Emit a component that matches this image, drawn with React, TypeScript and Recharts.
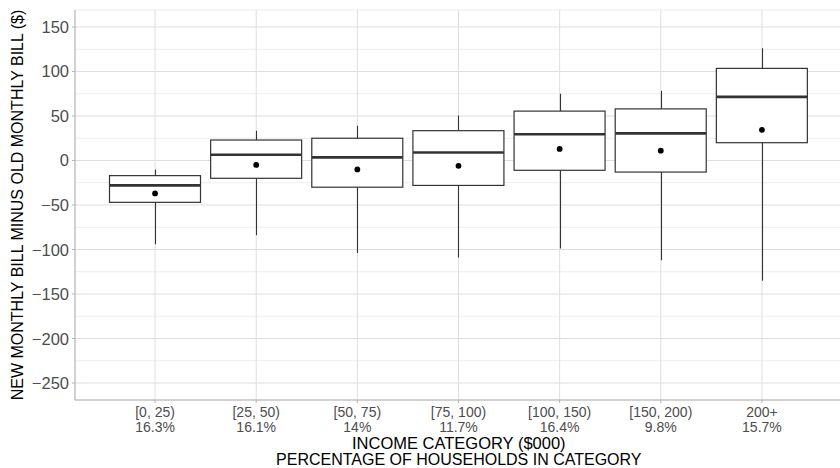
import React from "react";
import {
  ComposedChart,
  Bar,
  Scatter,
  XAxis,
  YAxis,
  CartesianGrid,
} from "recharts";

const categories = ["[0, 25)", "[25, 50)", "[50, 75)", "[75, 100)", "[100, 150)", "[150, 200)", "200+"];
const shares = ["16.3%", "16.1%", "14%", "11.7%", "16.4%", "9.8%", "15.7%"];
const whiskerLow = [-94, -84, -104, -109, -99, -112, -135];
const q1 = [-47, -20, -30, -28, -11, -13, 20];
const median = [-28, 6.5, 3.5, 9, 29.5, 30.5, 71.5];
const q3 = [-17, 23, 25, 33.5, 55.5, 58, 103.5];
const whiskerHigh = [-10, 33.5, 39, 50.5, 75, 78.5, 126];
const means = [-37, -5, -10, -6, 13, 11, 34.5];

const majorTicks = [-250, -200, -150, -100, -50, 0, 50, 100, 150];
const allTicks = [-250, -225, -200, -175, -150, -125, -100, -75, -50, -25, 0, 25, 50, 75, 100, 125, 150];

const data = categories.map((cat, i) => ({
  cat,
  share: shares[i],
  range: [whiskerLow[i], whiskerHigh[i]],
  box: [q1[i], q3[i]],
  median: median[i],
  mean: means[i],
}));

const FONT = "'Liberation Sans', Arial, Helvetica, sans-serif";
const BOX_W = 91;
const INK = "#333333";

const WhiskerShape = (props: any) => {
  const { x, y, width, height } = props;
  const top = Math.min(y, y + height);
  const h = Math.abs(height);
  const cx = Math.round(x + width / 2) + 0.5;
  return <line x1={cx} x2={cx} y1={top} y2={top + h} stroke={INK} strokeWidth={1.1} />;
};

const BoxShape = (props: any) => {
  const { x, y, width, height } = props;
  const top = Math.min(y, y + height);
  const h = Math.abs(height);
  return <rect x={x} y={top} width={width} height={h} fill="#ffffff" stroke={INK} strokeWidth={1.2} />;
};

const MedianShape = (props: any) => {
  const { cx, cy } = props;
  return <line x1={cx - BOX_W / 2} x2={cx + BOX_W / 2} y1={cy} y2={cy} stroke={INK} strokeWidth={2.6} />;
};

const MeanShape = (props: any) => {
  const { cx, cy } = props;
  return <circle cx={cx} cy={cy} r={2.9} fill="#000000" />;
};

const XTick = (props: any) => {
  const { x, y, payload } = props;
  const idx = categories.indexOf(payload.value);
  return (
    <text x={x} y={y} textAnchor="middle" fill="#4d4d4d" fontSize={14} fontFamily={FONT}>
      <tspan x={x} dy={11.5}>{payload.value}</tspan>
      <tspan x={x} dy={15}>{shares[idx]}</tspan>
    </text>
  );
};

const fmtY = (v: number) => (v < 0 ? "\u2212" + Math.abs(v) : String(v));

const YTick = (props: any) => {
  const { x, y, payload } = props;
  if (!majorTicks.includes(payload.value)) return <g />;
  return (
    <g>
      <line x1={x + 3} x2={x + 6} y1={y} y2={y} stroke="#b3b3b3" strokeWidth={1} />
      <text x={x} y={y} dy={6} textAnchor="end" fill="#4d4d4d" fontSize={16.5} fontFamily={FONT}>
        {fmtY(payload.value)}
      </text>
    </g>
  );
};

const HLine = (p: any) => {
  const major = (p.index ?? 0) % 2 === 0;
  return (
    <line
      key={p.key}
      x1={p.x1}
      x2={p.x2}
      y1={p.y1}
      y2={p.y2}
      stroke={major ? "#dedede" : "#ededed"}
      strokeWidth={1}
    />
  );
};

export default function App() {
  return (
    <div style={{ position: "absolute", left: 0, top: 0, width: 840, height: 468, overflow: "hidden", background: "#fff" }}>
      <ComposedChart
        width={850}
        height={468}
        data={data}
        margin={{ top: 10, right: 8, bottom: 0, left: 0 }}
      >
        <CartesianGrid xAxisId="main" stroke="#dedede" strokeWidth={1} horizontal={HLine} />
        <XAxis
          xAxisId="main"
          dataKey="cat"
          height={68}
          padding={{ left: 29.5, right: 29.5 }}
          axisLine={{ stroke: "#b3b3b3" }}
          tickLine={{ stroke: "#b3b3b3" }}
          tickSize={3}
          tickMargin={2}
          tick={<XTick />}
          interval={0}
        />
        <XAxis
          xAxisId="top"
          dataKey="cat"
          orientation="top"
          height={0}
          padding={{ left: 29.5, right: 29.5 }}
          axisLine={{ stroke: "#b3b3b3" }}
          tick={false}
          tickLine={false}
        />
        <YAxis
          type="number"
          domain={[-269.1, 169.1]}
          ticks={allTicks}
          interval={0}
          allowDataOverflow
          width={75}
          axisLine={{ stroke: "#b3b3b3" }}
          tickLine={false}
          tickSize={3}
          tickMargin={3}
          tick={<YTick />}
        />
        <Bar xAxisId="main" dataKey="range" barSize={BOX_W} shape={<WhiskerShape />} isAnimationActive={false} />
        <Bar xAxisId="top" dataKey="box" barSize={BOX_W} shape={<BoxShape />} isAnimationActive={false} />
        <Scatter xAxisId="main" dataKey="median" shape={<MedianShape />} isAnimationActive={false} />
        <Scatter xAxisId="main" dataKey="mean" shape={<MeanShape />} isAnimationActive={false} />
      </ComposedChart>
      <svg
        width={840}
        height={468}
        style={{ position: "absolute", left: 0, top: 0, pointerEvents: "none" }}
      >
        <text
          transform="translate(22.5, 205) rotate(-90)"
          textAnchor="middle"
          fontSize={16}
          fontFamily={FONT}
          fill="#000"
        >
          NEW MONTHLY BILL MINUS OLD MONTHLY BILL ($)
        </text>
        <text x={458.8} y={449} textAnchor="middle" fontSize={16.5} fontFamily={FONT} fill="#000">
          INCOME CATEGORY ($000)
        </text>
        <text x={458.8} y={465} textAnchor="middle" fontSize={16} fontFamily={FONT} fill="#000">
          PERCENTAGE OF HOUSEHOLDS IN CATEGORY
        </text>
      </svg>
    </div>
  );
}
